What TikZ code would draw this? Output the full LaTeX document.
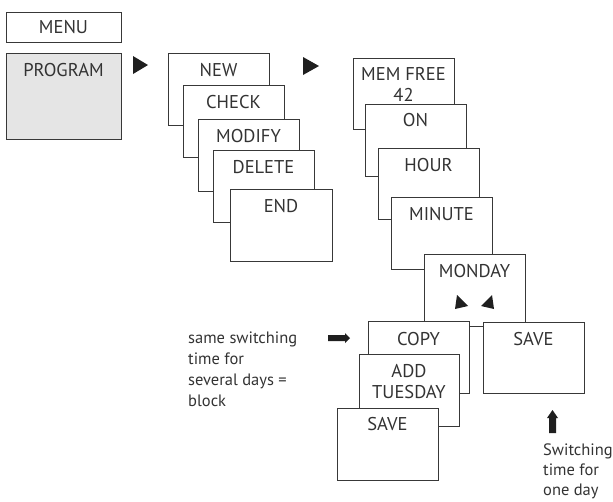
\documentclass[tikz,border=0pt]{standalone}
\usepackage{fontspec}
\setmainfont{PT Sans}
\begin{document}
\begin{tikzpicture}[x=1pt,y=-1pt,
  screen/.style={draw=black!78, line width=0.9pt, fill=white, anchor=north west,
    minimum width=101pt, minimum height=72pt, inner sep=0pt, outer sep=0pt},
  lbl/.style={anchor=base, inner sep=0pt, text=black!80, align=center,
    font=\fontsize{18.5}{21}\selectfont},
  note/.style={anchor=base west, inner sep=0pt, text=black!80, align=left,
    font=\fontsize{16.5}{21}\selectfont},
  tri/.style={fill=black!88}]
\useasboundingbox (0,0) rectangle (613,501);

% main menu
\node[screen, minimum width=115pt, minimum height=30pt] (menu) at (6,12) {};
\node[lbl] at ([yshift=-21pt]menu.north) {MENU};
\node[screen, minimum width=115pt, minimum height=86pt, fill=black!10] (program) at (6,53) {};
\node[lbl] at ([yshift=-23pt]program.north) {PROGRAM};

\fill[tri] (133,56) -- (148,65) -- (133,74) -- cycle;

% program sub menu
\node[screen] (new) at (168,53) {};
\node[lbl] at ([yshift=-23pt]new.north) {NEW};
\node[screen] (check) at (183,85) {};
\node[lbl] at ([yshift=-23pt]check.north) {CHECK};
\node[screen] (modify) at (198,119) {};
\node[lbl] at ([yshift=-23pt]modify.north) {MODIFY};
\node[screen] (delete) at (213,150) {};
\node[lbl] at ([yshift=-23pt]delete.north) {DELETE};
\node[screen, minimum width=102pt] (end) at (230,189) {};
\node[lbl] at ([yshift=-23pt]end.north) {END};

\fill[tri] (303,57) -- (319,66) -- (303,75) -- cycle;

% new switching time
\node[screen, minimum height=71pt] (memfree) at (353,58) {};
\node[lbl] at ([yshift=-43pt]memfree.north) {MEM FREE\\42};
\node[screen] (on) at (365,104) {};
\node[lbl] at ([yshift=-22pt]on.north) {ON};
\node[screen, minimum height=71pt] (hour) at (378,148) {};
\node[lbl] at ([yshift=-23pt]hour.north) {HOUR};
\node[screen] (minute) at (391,197) {};
\node[lbl] at ([yshift=-23pt]minute.north) {MINUTE};
\node[screen] (monday) at (424,254) {};
\node[lbl] at ([yshift=-23pt]monday.north) {MONDAY};
\fill[tri] (457,295) -- (468,306) -- (455,309) -- cycle;
\fill[tri] (492,295) -- (494,309) -- (481,306) -- cycle;

% save for one day
\node[screen, minimum height=71pt] (saveone) at (483,322) {};
\node[lbl] at ([yshift=-23pt]saveone.north) {SAVE};

% copy to a block of days
\node[screen] (copy) at (368,321) {};
\node[lbl] at ([yshift=-24pt]copy.north) {COPY};
\node[screen, minimum width=100pt] (add) at (359,354) {};
\node[lbl] at ([yshift=-44pt]add.north) {ADD\\TUESDAY};
\node[screen] (saveblock) at (337,408) {};
\node[lbl] at ([yshift=-22pt]saveblock.north) {SAVE};

% remarks
\node[note] (blocknote) at (188,406) {same switching\\time for\\several days =\\block};
\fill[tri] (328,335) -- (345,335) -- (345,333) -- (350,338) -- (345,343) -- (345,341) -- (328,341) -- cycle;

\fill[tri] (549,433) -- (549,418) -- (547,418) -- (552.5,410) -- (558,418) -- (556,418) -- (556,433) -- cycle;
\node[note, font=\fontsize{16.5}{20}\selectfont] (daynote) at (543,495) {Switching\\time for\\one day};
\end{tikzpicture}
\end{document}
